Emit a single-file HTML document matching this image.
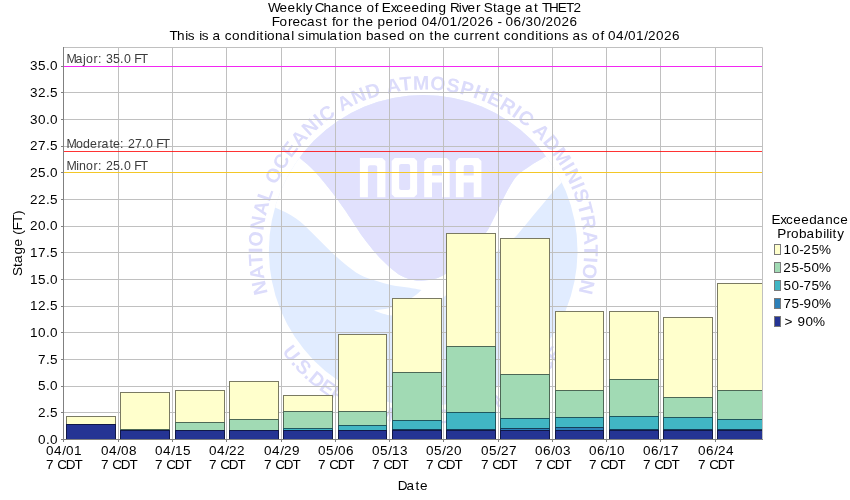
<!DOCTYPE html>
<html><head><meta charset="utf-8"><title>Weekly Chance of Exceeding River Stage at THET2</title>
<style>html,body{margin:0;padding:0;background:#fff;}body{width:850px;height:500px;overflow:hidden;}svg{display:block;will-change:transform;}text{font-family:"Liberation Sans",sans-serif;}</style></head><body>
<svg width="850" height="500" viewBox="0 0 850 500">
<rect x="0" y="0" width="850" height="500" fill="#ffffff"/>
<defs><clipPath id="plotclip"><rect x="63" y="47" width="700" height="393"/></clipPath><clipPath id="disc"><ellipse cx="423.2" cy="250.6" rx="154.3" ry="155.6"/></clipPath>
<path id="arcTop" d="M267.91,293.08 A161.0,161.0 0 1 1 577.96,294.98"/>
<path id="arcBot" d="M281.88,351.77 A173.8,173.8 0 0 0 573.72,337.50"/>
</defs>
<g id="watermark" clip-path="url(#plotclip)">
<ellipse cx="423.2" cy="250.6" rx="154.3" ry="155.6" fill="#e1ecff"/>
<g clip-path="url(#disc)">
<path fill="#ffffff" d="M283.0,143.5 C285.7,145.8 293.8,152.8 299.2,157.6 C304.6,162.3 309.9,166.4 315.2,172.0 C320.5,177.6 326.4,185.1 331.2,191.2 C336.0,197.3 340.3,203.5 344.0,208.8 C347.7,214.1 350.4,218.4 353.6,223.2 C356.8,228.0 359.5,232.5 363.2,237.6 C366.9,242.7 371.7,248.8 376.0,253.6 C380.3,258.4 384.5,262.7 388.8,266.4 C393.1,270.1 397.3,273.7 401.6,276.0 C405.9,278.3 410.7,279.5 414.4,280.3 C418.1,281.1 420.7,280.8 424.0,280.6 C427.3,280.4 430.8,279.9 434.0,279.0 C437.2,278.1 439.3,277.7 443.0,275.5 C446.7,273.3 451.5,270.1 456.0,266.0 C460.5,261.9 466.0,255.3 470.0,251.0 C474.0,246.7 477.2,243.2 480.0,240.0 C482.8,236.8 484.7,234.7 486.8,231.6 C488.9,228.5 490.7,224.5 492.4,221.2 C494.1,217.9 495.5,215.2 497.2,211.6 C498.9,208.0 500.7,203.9 502.8,199.6 C504.9,195.3 507.5,190.1 510.0,186.0 C512.5,181.9 514.7,178.1 518.0,174.8 C521.3,171.5 525.7,168.9 530.0,166.0 C534.3,163.1 539.0,160.6 544.0,157.6 C549.0,154.6 557.3,149.6 560.0,148.0 L600,120 L600,160 L575.0,168.0 C572.8,170.3 565.6,178.1 562.0,182.0 C558.4,185.9 556.0,188.4 553.2,191.6 C550.4,194.8 547.9,198.0 545.2,201.2 C542.5,204.4 539.9,207.6 537.2,210.8 C534.5,214.0 531.9,217.2 529.2,220.4 C526.5,223.6 523.6,227.2 521.2,230.0 C518.8,232.8 518.8,233.7 514.8,237.2 C510.8,240.7 503.3,246.2 497.5,251.0 C491.7,255.8 485.9,260.8 480.0,266.0 C474.1,271.2 468.0,276.8 462.0,282.0 C456.0,287.2 447.0,294.5 444.0,297.0 L444.0,297.0 C442.0,298.2 436.0,302.2 432.0,304.5 C428.0,306.8 424.5,308.8 420.0,310.5 C415.5,312.2 410.1,313.8 405.0,314.6 C399.9,315.4 394.8,315.9 389.6,315.2 C384.4,314.5 376.6,311.2 374.0,310.4 L374.0,310.4 C376.6,310.0 384.4,309.5 389.6,308.0 C394.8,306.5 400.9,303.5 405.0,301.5 C409.1,299.5 411.6,297.9 414.4,296.0 C417.2,294.1 420.4,291.0 421.6,290.0 L421.6,290.0 C419.3,289.6 412.9,288.4 408.0,287.6 C403.1,286.8 397.3,286.4 392.0,285.3 C386.7,284.2 381.3,282.6 376.0,280.8 C370.7,279.1 365.3,277.7 360.0,274.8 C354.7,271.9 349.3,267.5 344.0,263.2 C338.7,258.9 333.3,253.9 328.0,248.8 C322.7,243.7 317.3,237.9 312.0,232.8 C306.7,227.7 302.2,222.6 296.0,218.4 C289.8,214.2 281.3,210.2 275.0,207.6 C268.7,205.0 260.8,203.8 258.0,203.0 L240,190 L240,120 Z"/>
<path fill="#e1e1fd" d="M283.0,143.5 C285.7,145.8 293.8,152.8 299.2,157.6 C304.6,162.3 309.9,166.4 315.2,172.0 C320.5,177.6 326.4,185.1 331.2,191.2 C336.0,197.3 340.3,203.5 344.0,208.8 C347.7,214.1 350.4,218.4 353.6,223.2 C356.8,228.0 359.5,232.5 363.2,237.6 C366.9,242.7 371.7,248.8 376.0,253.6 C380.3,258.4 384.5,262.7 388.8,266.4 C393.1,270.1 397.3,273.7 401.6,276.0 C405.9,278.3 410.7,279.5 414.4,280.3 C418.1,281.1 420.7,280.8 424.0,280.6 C427.3,280.4 430.8,279.9 434.0,279.0 C437.2,278.1 439.3,277.7 443.0,275.5 C446.7,273.3 451.5,270.1 456.0,266.0 C460.5,261.9 466.0,255.3 470.0,251.0 C474.0,246.7 477.2,243.2 480.0,240.0 C482.8,236.8 484.7,234.7 486.8,231.6 C488.9,228.5 490.7,224.5 492.4,221.2 C494.1,217.9 495.5,215.2 497.2,211.6 C498.9,208.0 500.7,203.9 502.8,199.6 C504.9,195.3 507.5,190.1 510.0,186.0 C512.5,181.9 514.7,178.1 518.0,174.8 C521.3,171.5 525.7,168.9 530.0,166.0 C534.3,163.1 539.0,160.6 544.0,157.6 C549.0,154.6 557.3,149.6 560.0,148.0 L610,110 L610,40 L240,40 L240,110 Z"/>
</g>
<path fill="#ffffff" fill-rule="evenodd" d="M359.9,197.2 V158.0 H382.4 L385.4,161.0 V197.2 H377.2 V167.3 Q377.2,165.3 375.2,165.3 H369.9 Q367.9,165.3 367.9,167.3 V197.2 Z M394.7,158.0 H414.1 L417.1,161.0 V194.2 L414.1,197.2 H394.7 L391.7,194.2 V161.0 Z M399.1,165.9 V188.1 Q399.1,190.1 401.1,190.1 H408.1 Q410.1,190.1 410.1,188.1 V165.9 Q410.1,163.9 408.1,163.9 H401.1 Q399.1,163.9 399.1,165.9 Z M424.2,197.2 V161.0 L427.2,158.0 H446.7 L449.7,161.0 V197.2 H442.0 V182.4 H432.0 V197.2 Z M432.0,167.0 V175.6 H442.0 V167.0 Q442.0,165.0 440.0,165.0 H434.0 Q432.0,165.0 432.0,167.0 Z M455.9,197.2 V161.0 L458.9,158.0 H478.4 L481.4,161.0 V197.2 H473.7 V182.4 H463.7 V197.2 Z M463.7,167.0 V175.6 H473.7 V167.0 Q473.7,165.0 471.7,165.0 H465.7 Q463.7,165.0 463.7,167.0 Z"/>
<text font-size="19.6" font-weight="bold" fill="#e1e1fd" style="fill:#dcdcfb"><textPath href="#arcTop" startOffset="0" textLength="590.9" lengthAdjust="spacing">NATIONAL OCEANIC AND ATMOSPHERIC ADMINISTRATION</textPath></text>
<text font-size="19.6" font-weight="bold" style="fill:#dcdcfb"><textPath href="#arcBot" startOffset="0" textLength="328.2" lengthAdjust="spacing">U.S.DEPARTMENT OF COMMERCE</textPath></text>
</g>
<g stroke="#c0c0c0" stroke-width="1" fill="none">
<line x1="118.50" y1="47" x2="118.50" y2="439"/>
<line x1="172.50" y1="47" x2="172.50" y2="439"/>
<line x1="226.50" y1="47" x2="226.50" y2="439"/>
<line x1="281.50" y1="47" x2="281.50" y2="439"/>
<line x1="335.50" y1="47" x2="335.50" y2="439"/>
<line x1="389.50" y1="47" x2="389.50" y2="439"/>
<line x1="443.50" y1="47" x2="443.50" y2="439"/>
<line x1="498.50" y1="47" x2="498.50" y2="439"/>
<line x1="552.50" y1="47" x2="552.50" y2="439"/>
<line x1="606.50" y1="47" x2="606.50" y2="439"/>
<line x1="660.50" y1="47" x2="660.50" y2="439"/>
<line x1="715.50" y1="47" x2="715.50" y2="439"/>
<line x1="63" y1="412.50" x2="763" y2="412.50"/>
<line x1="63" y1="386.50" x2="763" y2="386.50"/>
<line x1="63" y1="359.50" x2="763" y2="359.50"/>
<line x1="63" y1="332.50" x2="763" y2="332.50"/>
<line x1="63" y1="306.50" x2="763" y2="306.50"/>
<line x1="63" y1="279.50" x2="763" y2="279.50"/>
<line x1="63" y1="252.50" x2="763" y2="252.50"/>
<line x1="63" y1="226.50" x2="763" y2="226.50"/>
<line x1="63" y1="199.50" x2="763" y2="199.50"/>
<line x1="63" y1="172.50" x2="763" y2="172.50"/>
<line x1="63" y1="146.50" x2="763" y2="146.50"/>
<line x1="63" y1="119.50" x2="763" y2="119.50"/>
<line x1="63" y1="92.50" x2="763" y2="92.50"/>
<line x1="63" y1="66.50" x2="763" y2="66.50"/>
</g>
<line x1="64" y1="66.5" x2="762" y2="66.5" stroke="#ff00ff" stroke-opacity="0.8" stroke-width="1"/>
<text transform="translate(67.0,63.0) scale(1.04,1)" x="-0.39 8.17 15.49 18.20 25.38 29.94 33.65 37.57 44.24 50.98 54.86 61.54 64.75 70.75" y="0" font-size="11.9" fill="#3c3c3c">Major: 35.0 FT</text>
<line x1="64" y1="151.5" x2="762" y2="151.5" stroke="#ff0000" stroke-opacity="0.8" stroke-width="1"/>
<text transform="translate(67.0,148.0) scale(1.04,1)" x="-0.39 8.58 15.38 22.08 29.22 33.17 40.77 44.20 51.09 54.81 58.57 65.42 72.14 76.01 82.69 85.91 91.91" y="0" font-size="11.9" fill="#3c3c3c">Moderate: 27.0 FT</text>
<line x1="64" y1="172.5" x2="762" y2="172.5" stroke="#ffc800" stroke-opacity="0.8" stroke-width="1"/>
<text transform="translate(67.0,170.0) scale(1.04,1)" x="-0.39 8.81 11.60 18.20 25.38 29.94 33.65 37.41 44.24 50.98 54.86 61.54 64.75 70.75" y="0" font-size="11.9" fill="#3c3c3c">Minor: 25.0 FT</text>
<g clip-path="url(#plotclip)" stroke-width="1" stroke="#000" stroke-opacity="0.52">
<rect x="66" y="416" width="50" height="9" fill="#ffffcc" stroke="none"/>
<rect x="66.5" y="416.5" width="49" height="8" fill="none"/>
<line x1="66" y1="424.5" x2="116" y2="424.5" stroke-opacity="0.7"/>
<line x1="66" y1="424.5" x2="116" y2="424.5" stroke-opacity="0.7"/>
<line x1="66" y1="424.5" x2="116" y2="424.5" stroke-opacity="0.7"/>
<rect x="66" y="424" width="50" height="16" fill="#253494" stroke="none"/>
<rect x="66.5" y="424.5" width="49" height="15" fill="none"/>
<rect x="120" y="392" width="50" height="38" fill="#ffffcc" stroke="none"/>
<rect x="120.5" y="392.5" width="49" height="37" fill="none"/>
<rect x="120" y="429" width="50" height="2" fill="#a1dab4" stroke="none"/>
<rect x="120.5" y="429.5" width="49" height="1" fill="none"/>
<line x1="120" y1="430.5" x2="170" y2="430.5" stroke-opacity="0.7"/>
<line x1="120" y1="430.5" x2="170" y2="430.5" stroke-opacity="0.7"/>
<rect x="120" y="430" width="50" height="10" fill="#253494" stroke="none"/>
<rect x="120.5" y="430.5" width="49" height="9" fill="none"/>
<rect x="175" y="390" width="50" height="33" fill="#ffffcc" stroke="none"/>
<rect x="175.5" y="390.5" width="49" height="32" fill="none"/>
<rect x="175" y="422" width="50" height="9" fill="#a1dab4" stroke="none"/>
<rect x="175.5" y="422.5" width="49" height="8" fill="none"/>
<line x1="175" y1="430.5" x2="225" y2="430.5" stroke-opacity="0.7"/>
<line x1="175" y1="430.5" x2="225" y2="430.5" stroke-opacity="0.7"/>
<rect x="175" y="430" width="50" height="10" fill="#253494" stroke="none"/>
<rect x="175.5" y="430.5" width="49" height="9" fill="none"/>
<rect x="229" y="381" width="50" height="39" fill="#ffffcc" stroke="none"/>
<rect x="229.5" y="381.5" width="49" height="38" fill="none"/>
<rect x="229" y="419" width="50" height="12" fill="#a1dab4" stroke="none"/>
<rect x="229.5" y="419.5" width="49" height="11" fill="none"/>
<line x1="229" y1="430.5" x2="279" y2="430.5" stroke-opacity="0.7"/>
<line x1="229" y1="430.5" x2="279" y2="430.5" stroke-opacity="0.7"/>
<rect x="229" y="430" width="50" height="10" fill="#253494" stroke="none"/>
<rect x="229.5" y="430.5" width="49" height="9" fill="none"/>
<rect x="283" y="395" width="50" height="17" fill="#ffffcc" stroke="none"/>
<rect x="283.5" y="395.5" width="49" height="16" fill="none"/>
<rect x="283" y="411" width="50" height="18" fill="#a1dab4" stroke="none"/>
<rect x="283.5" y="411.5" width="49" height="17" fill="none"/>
<rect x="283" y="428" width="50" height="3" fill="#41b6c4" stroke="none"/>
<rect x="283.5" y="428.5" width="49" height="2" fill="none"/>
<line x1="283" y1="430.5" x2="333" y2="430.5" stroke-opacity="0.7"/>
<rect x="283" y="430" width="50" height="10" fill="#253494" stroke="none"/>
<rect x="283.5" y="430.5" width="49" height="9" fill="none"/>
<rect x="338" y="334" width="49" height="78" fill="#ffffcc" stroke="none"/>
<rect x="338.5" y="334.5" width="48" height="77" fill="none"/>
<rect x="338" y="411" width="49" height="15" fill="#a1dab4" stroke="none"/>
<rect x="338.5" y="411.5" width="48" height="14" fill="none"/>
<rect x="338" y="425" width="49" height="6" fill="#41b6c4" stroke="none"/>
<rect x="338.5" y="425.5" width="48" height="5" fill="none"/>
<line x1="338" y1="430.5" x2="387" y2="430.5" stroke-opacity="0.7"/>
<rect x="338" y="430" width="49" height="10" fill="#253494" stroke="none"/>
<rect x="338.5" y="430.5" width="48" height="9" fill="none"/>
<rect x="392" y="298" width="50" height="75" fill="#ffffcc" stroke="none"/>
<rect x="392.5" y="298.5" width="49" height="74" fill="none"/>
<rect x="392" y="372" width="50" height="49" fill="#a1dab4" stroke="none"/>
<rect x="392.5" y="372.5" width="49" height="48" fill="none"/>
<rect x="392" y="420" width="50" height="10" fill="#41b6c4" stroke="none"/>
<rect x="392.5" y="420.5" width="49" height="9" fill="none"/>
<rect x="392" y="429" width="50" height="2" fill="#2c7fb8" stroke="none"/>
<rect x="392.5" y="429.5" width="49" height="1" fill="none"/>
<rect x="392" y="430" width="50" height="10" fill="#253494" stroke="none"/>
<rect x="392.5" y="430.5" width="49" height="9" fill="none"/>
<rect x="446" y="233" width="50" height="114" fill="#ffffcc" stroke="none"/>
<rect x="446.5" y="233.5" width="49" height="113" fill="none"/>
<rect x="446" y="346" width="50" height="67" fill="#a1dab4" stroke="none"/>
<rect x="446.5" y="346.5" width="49" height="66" fill="none"/>
<rect x="446" y="412" width="50" height="18" fill="#41b6c4" stroke="none"/>
<rect x="446.5" y="412.5" width="49" height="17" fill="none"/>
<rect x="446" y="429" width="50" height="2" fill="#2c7fb8" stroke="none"/>
<rect x="446.5" y="429.5" width="49" height="1" fill="none"/>
<rect x="446" y="430" width="50" height="10" fill="#253494" stroke="none"/>
<rect x="446.5" y="430.5" width="49" height="9" fill="none"/>
<rect x="500" y="238" width="50" height="137" fill="#ffffcc" stroke="none"/>
<rect x="500.5" y="238.5" width="49" height="136" fill="none"/>
<rect x="500" y="374" width="50" height="45" fill="#a1dab4" stroke="none"/>
<rect x="500.5" y="374.5" width="49" height="44" fill="none"/>
<rect x="500" y="418" width="50" height="11" fill="#41b6c4" stroke="none"/>
<rect x="500.5" y="418.5" width="49" height="10" fill="none"/>
<rect x="500" y="428" width="50" height="3" fill="#2c7fb8" stroke="none"/>
<rect x="500.5" y="428.5" width="49" height="2" fill="none"/>
<rect x="500" y="430" width="50" height="10" fill="#253494" stroke="none"/>
<rect x="500.5" y="430.5" width="49" height="9" fill="none"/>
<rect x="555" y="311" width="49" height="80" fill="#ffffcc" stroke="none"/>
<rect x="555.5" y="311.5" width="48" height="79" fill="none"/>
<rect x="555" y="390" width="49" height="28" fill="#a1dab4" stroke="none"/>
<rect x="555.5" y="390.5" width="48" height="27" fill="none"/>
<rect x="555" y="417" width="49" height="11" fill="#41b6c4" stroke="none"/>
<rect x="555.5" y="417.5" width="48" height="10" fill="none"/>
<rect x="555" y="427" width="49" height="4" fill="#2c7fb8" stroke="none"/>
<rect x="555.5" y="427.5" width="48" height="3" fill="none"/>
<rect x="555" y="430" width="49" height="10" fill="#253494" stroke="none"/>
<rect x="555.5" y="430.5" width="48" height="9" fill="none"/>
<rect x="609" y="311" width="50" height="69" fill="#ffffcc" stroke="none"/>
<rect x="609.5" y="311.5" width="49" height="68" fill="none"/>
<rect x="609" y="379" width="50" height="38" fill="#a1dab4" stroke="none"/>
<rect x="609.5" y="379.5" width="49" height="37" fill="none"/>
<rect x="609" y="416" width="50" height="14" fill="#41b6c4" stroke="none"/>
<rect x="609.5" y="416.5" width="49" height="13" fill="none"/>
<rect x="609" y="429" width="50" height="2" fill="#2c7fb8" stroke="none"/>
<rect x="609.5" y="429.5" width="49" height="1" fill="none"/>
<rect x="609" y="430" width="50" height="10" fill="#253494" stroke="none"/>
<rect x="609.5" y="430.5" width="49" height="9" fill="none"/>
<rect x="663" y="317" width="50" height="81" fill="#ffffcc" stroke="none"/>
<rect x="663.5" y="317.5" width="49" height="80" fill="none"/>
<rect x="663" y="397" width="50" height="21" fill="#a1dab4" stroke="none"/>
<rect x="663.5" y="397.5" width="49" height="20" fill="none"/>
<rect x="663" y="417" width="50" height="13" fill="#41b6c4" stroke="none"/>
<rect x="663.5" y="417.5" width="49" height="12" fill="none"/>
<rect x="663" y="429" width="50" height="2" fill="#2c7fb8" stroke="none"/>
<rect x="663.5" y="429.5" width="49" height="1" fill="none"/>
<rect x="663" y="430" width="50" height="10" fill="#253494" stroke="none"/>
<rect x="663.5" y="430.5" width="49" height="9" fill="none"/>
<rect x="717" y="283" width="50" height="108" fill="#ffffcc" stroke="none"/>
<rect x="717.5" y="283.5" width="49" height="107" fill="none"/>
<rect x="717" y="390" width="50" height="30" fill="#a1dab4" stroke="none"/>
<rect x="717.5" y="390.5" width="49" height="29" fill="none"/>
<rect x="717" y="419" width="50" height="11" fill="#41b6c4" stroke="none"/>
<rect x="717.5" y="419.5" width="49" height="10" fill="none"/>
<rect x="717" y="429" width="50" height="2" fill="#2c7fb8" stroke="none"/>
<rect x="717.5" y="429.5" width="49" height="1" fill="none"/>
<rect x="717" y="430" width="50" height="10" fill="#253494" stroke="none"/>
<rect x="717.5" y="430.5" width="49" height="9" fill="none"/>
</g>
<g fill="none" stroke-width="1">
<path d="M63.5,47.5 H762.5 V439.5" stroke="#c0c0c0"/>
<path d="M63.5,47 V440 M63,439.5 H763" stroke="#808080"/>
<path d="M61,439.50 H63 M61,412.50 H63 M61,386.50 H63 M61,359.50 H63 M61,332.50 H63 M61,306.50 H63 M61,279.50 H63 M61,252.50 H63 M61,226.50 H63 M61,199.50 H63 M61,172.50 H63 M61,146.50 H63 M61,119.50 H63 M61,92.50 H63 M61,66.50 H63 M63.50,440 V442 M118.50,440 V442 M172.50,440 V442 M226.50,440 V442 M281.50,440 V442 M335.50,440 V442 M389.50,440 V442 M443.50,440 V442 M498.50,440 V442 M552.50,440 V442 M606.50,440 V442 M660.50,440 V442 M715.50,440 V442" stroke="#808080"/>
</g>
<text transform="translate(268.5,12) scale(1.04,1)" x="-0.43 10.54 18.23 26.11 32.85 35.74 41.35 44.46 52.93 60.04 68.33 75.74 82.65 90.38 94.15 102.29 105.77 108.87 117.45 122.85 129.77 137.46 145.18 153.05 155.83 163.45 171.15 174.48 182.86 185.74 191.30 199.45 203.85 207.08 215.81 219.66 227.87 235.54 243.27 246.58 255.23 259.62 263.02 269.83 278.10 286.10 293.17" y="0" font-size="13.0" fill="#000">Weekly Chance of Exceeding River Stage at THET2</text>
<text transform="translate(272.5,26) scale(1.04,1)" x="-0.69 6.65 14.83 19.19 26.70 33.12 41.19 48.50 52.88 57.10 60.49 68.68 73.08 77.35 81.78 89.38 97.12 101.07 108.61 116.75 121.32 123.96 131.72 139.42 143.32 151.02 158.79 162.55 170.17 178.02 181.63 189.48 197.02 204.86 212.50 216.26 220.19 224.09 231.78 239.56 243.34 251.01 258.79 262.40 270.25 277.79 285.63" y="0" font-size="13.0" fill="#000">Forecast for the period 04/01/2026 - 06/30/2026</text>
<text transform="translate(170.0,40) scale(1.04,1)" x="-0.44 6.78 14.59 17.15 24.04 28.05 30.61 37.50 40.81 49.04 52.66 59.53 67.37 74.99 82.86 86.00 90.55 93.19 101.03 108.12 116.50 119.23 122.92 129.97 132.93 143.29 151.12 153.31 161.96 166.51 169.15 176.99 184.62 188.57 195.62 203.69 210.54 218.26 225.96 229.73 237.57 245.19 249.46 253.89 261.50 269.23 272.85 279.82 287.91 292.72 297.07 304.87 312.92 317.31 320.93 327.80 335.64 343.26 351.13 354.27 358.82 361.46 369.30 376.76 383.65 386.97 395.03 401.92 405.69 413.83 417.31 421.21 428.90 436.68 440.44 448.06 455.91 459.52 467.36 474.90 482.74" y="0" font-size="13.0" fill="#000">This is a conditional simulation based on the current conditions as of 04/01/2026</text>
<text transform="translate(38.0,444) scale(1.04,1)" x="0.05 7.71 11.59" y="0" font-size="13.0" fill="#000">0.0</text>
<text transform="translate(38.0,417) scale(1.04,1)" x="-0.10 7.71 11.55" y="0" font-size="13.0" fill="#000">2.5</text>
<text transform="translate(38.0,390) scale(1.04,1)" x="0.01 7.71 11.59" y="0" font-size="13.0" fill="#000">5.0</text>
<text transform="translate(38.0,364) scale(1.04,1)" x="0.03 7.71 11.55" y="0" font-size="13.0" fill="#000">7.5</text>
<text transform="translate(30.0,337) scale(1.04,1)" x="-0.02 7.75 15.41 19.28" y="0" font-size="13.0" fill="#000">10.0</text>
<text transform="translate(30.0,310) scale(1.04,1)" x="-0.02 7.59 15.41 19.24" y="0" font-size="13.0" fill="#000">12.5</text>
<text transform="translate(30.0,284) scale(1.04,1)" x="-0.02 7.70 15.41 19.28" y="0" font-size="13.0" fill="#000">15.0</text>
<text transform="translate(30.0,257) scale(1.04,1)" x="-0.02 7.72 15.41 19.24" y="0" font-size="13.0" fill="#000">17.5</text>
<text transform="translate(30.0,230) scale(1.04,1)" x="-0.10 7.75 15.41 19.28" y="0" font-size="13.0" fill="#000">20.0</text>
<text transform="translate(30.0,204) scale(1.04,1)" x="-0.10 7.59 15.41 19.24" y="0" font-size="13.0" fill="#000">22.5</text>
<text transform="translate(30.0,177) scale(1.04,1)" x="-0.10 7.70 15.41 19.28" y="0" font-size="13.0" fill="#000">25.0</text>
<text transform="translate(30.0,150) scale(1.04,1)" x="-0.10 7.72 15.41 19.24" y="0" font-size="13.0" fill="#000">27.5</text>
<text transform="translate(30.0,124) scale(1.04,1)" x="0.07 7.75 15.41 19.28" y="0" font-size="13.0" fill="#000">30.0</text>
<text transform="translate(30.0,97) scale(1.04,1)" x="0.07 7.59 15.41 19.24" y="0" font-size="13.0" fill="#000">32.5</text>
<text transform="translate(30.0,70) scale(1.04,1)" x="0.07 7.70 15.41 19.28" y="0" font-size="13.0" fill="#000">35.0</text>
<text transform="translate(46.0,455) scale(1.04,1)" x="0.05 7.75 15.52 19.28 26.90" y="0" font-size="13.0" fill="#000">04/01</text>
<text transform="translate(46.0,469) scale(1.04,1)" x="0.03 7.69 10.80 18.98 27.44" y="0" font-size="13.0" fill="#000">7 CDT</text>
<text transform="translate(101.0,455) scale(1.04,1)" x="0.05 7.75 15.52 19.28 26.98" y="0" font-size="13.0" fill="#000">04/08</text>
<text transform="translate(101.0,469) scale(1.04,1)" x="0.03 7.69 10.80 18.98 27.44" y="0" font-size="13.0" fill="#000">7 CDT</text>
<text transform="translate(155.0,455) scale(1.04,1)" x="0.05 7.75 15.52 19.21 26.93" y="0" font-size="13.0" fill="#000">04/15</text>
<text transform="translate(155.0,469) scale(1.04,1)" x="0.03 7.69 10.80 18.98 27.44" y="0" font-size="13.0" fill="#000">7 CDT</text>
<text transform="translate(209.0,455) scale(1.04,1)" x="0.05 7.75 15.52 19.13 26.82" y="0" font-size="13.0" fill="#000">04/22</text>
<text transform="translate(209.0,469) scale(1.04,1)" x="0.03 7.69 10.80 18.98 27.44" y="0" font-size="13.0" fill="#000">7 CDT</text>
<text transform="translate(264.0,455) scale(1.04,1)" x="0.05 7.75 15.52 19.13 26.94" y="0" font-size="13.0" fill="#000">04/29</text>
<text transform="translate(264.0,469) scale(1.04,1)" x="0.03 7.69 10.80 18.98 27.44" y="0" font-size="13.0" fill="#000">7 CDT</text>
<text transform="translate(318.0,455) scale(1.04,1)" x="0.05 7.70 15.52 19.28 26.97" y="0" font-size="13.0" fill="#000">05/06</text>
<text transform="translate(318.0,469) scale(1.04,1)" x="0.03 7.69 10.80 18.98 27.44" y="0" font-size="13.0" fill="#000">7 CDT</text>
<text transform="translate(372.0,455) scale(1.04,1)" x="0.05 7.70 15.52 19.21 26.99" y="0" font-size="13.0" fill="#000">05/13</text>
<text transform="translate(372.0,469) scale(1.04,1)" x="0.03 7.69 10.80 18.98 27.44" y="0" font-size="13.0" fill="#000">7 CDT</text>
<text transform="translate(426.0,455) scale(1.04,1)" x="0.05 7.70 15.52 19.13 26.98" y="0" font-size="13.0" fill="#000">05/20</text>
<text transform="translate(426.0,469) scale(1.04,1)" x="0.03 7.69 10.80 18.98 27.44" y="0" font-size="13.0" fill="#000">7 CDT</text>
<text transform="translate(481.0,455) scale(1.04,1)" x="0.05 7.70 15.52 19.13 26.95" y="0" font-size="13.0" fill="#000">05/27</text>
<text transform="translate(481.0,469) scale(1.04,1)" x="0.03 7.69 10.80 18.98 27.44" y="0" font-size="13.0" fill="#000">7 CDT</text>
<text transform="translate(535.0,455) scale(1.04,1)" x="0.05 7.74 15.52 19.28 26.99" y="0" font-size="13.0" fill="#000">06/03</text>
<text transform="translate(535.0,469) scale(1.04,1)" x="0.03 7.69 10.80 18.98 27.44" y="0" font-size="13.0" fill="#000">7 CDT</text>
<text transform="translate(589.0,455) scale(1.04,1)" x="0.05 7.74 15.52 19.21 26.98" y="0" font-size="13.0" fill="#000">06/10</text>
<text transform="translate(589.0,469) scale(1.04,1)" x="0.03 7.69 10.80 18.98 27.44" y="0" font-size="13.0" fill="#000">7 CDT</text>
<text transform="translate(643.0,455) scale(1.04,1)" x="0.05 7.74 15.52 19.21 26.95" y="0" font-size="13.0" fill="#000">06/17</text>
<text transform="translate(643.0,469) scale(1.04,1)" x="0.03 7.69 10.80 18.98 27.44" y="0" font-size="13.0" fill="#000">7 CDT</text>
<text transform="translate(698.0,455) scale(1.04,1)" x="0.05 7.74 15.52 19.13 26.98" y="0" font-size="13.0" fill="#000">06/24</text>
<text transform="translate(698.0,469) scale(1.04,1)" x="0.03 7.69 10.80 18.98 27.44" y="0" font-size="13.0" fill="#000">7 CDT</text>
<text transform="translate(398,490) scale(1.04,1)" x="-0.25 8.12 16.77 21.11" y="0" font-size="13.0" fill="#000">Date</text>
<text transform="translate(22,275.5) rotate(-90) scale(1.04,1)" x="-0.61 8.11 11.97 20.18 27.84 35.58 39.18 43.54 50.52 58.11" y="0" font-size="13.0" fill="#000">Stage (FT)</text>
<text transform="translate(772.2,224) scale(1.04,1)" x="-0.75 7.83 13.24 20.15 27.84 35.56 42.74 51.03 58.43 65.34" y="0" font-size="13.0" fill="#000">Exceedance</text>
<text transform="translate(778.0,238) scale(1.04,1)" x="-0.68 8.10 12.42 20.30 27.35 35.69 43.43 46.31 49.20 52.35 56.89" y="0" font-size="13.0" fill="#000">Probability</text>
<rect x="774.5" y="244.5" width="6" height="10" fill="#ffffcc" stroke="#7a7a7a" stroke-width="1"/>
<text transform="translate(783.4,254) scale(1.04,1)" x="-0.02 7.75 15.30 19.13 26.93 34.32" y="0" font-size="13.0" fill="#000">10-25%</text>
<rect x="774.5" y="262.5" width="6" height="10" fill="#a1dab4" stroke="#7a7a7a" stroke-width="1"/>
<text transform="translate(783.4,272) scale(1.04,1)" x="-0.10 7.70 15.30 19.24 26.98 34.32" y="0" font-size="13.0" fill="#000">25-50%</text>
<rect x="774.5" y="280.5" width="6" height="10" fill="#41b6c4" stroke="#7a7a7a" stroke-width="1"/>
<text transform="translate(783.4,290) scale(1.04,1)" x="0.01 7.75 15.30 19.26 26.93 34.32" y="0" font-size="13.0" fill="#000">50-75%</text>
<rect x="774.5" y="298.5" width="6" height="10" fill="#2c7fb8" stroke="#7a7a7a" stroke-width="1"/>
<text transform="translate(783.4,308) scale(1.04,1)" x="0.03 7.70 15.30 19.25 26.98 34.32" y="0" font-size="13.0" fill="#000">75-90%</text>
<rect x="774.5" y="316.5" width="6" height="10" fill="#253494" stroke="#7a7a7a" stroke-width="1"/>
<text transform="translate(783.4,326) scale(1.04,1)" x="1.03 9.62 13.48 21.21 28.55" y="0" font-size="13.0" fill="#000">&gt; 90%</text>
</svg></body></html>
